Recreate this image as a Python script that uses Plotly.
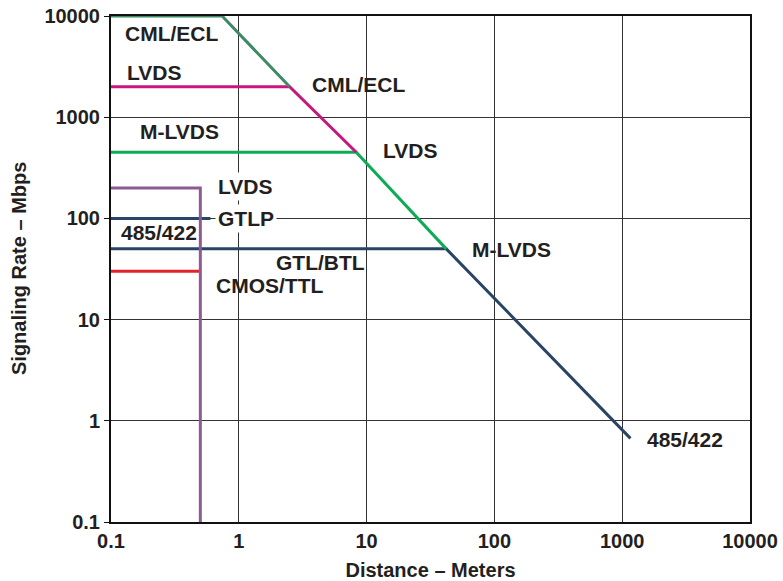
import plotly.graph_objects as go

# ---- data (distance in meters, rate in Mbps) ----
cml_x = [0.1, 0.74, 2.5]
cml_y = [10000, 10000, 2000]

lvds_x = [0.1, 2.5, 8.3]
lvds_y = [2000, 2000, 450]

mlvds_x = [0.1, 8.3, 42]
mlvds_y = [450, 450, 50]

rs485_x = [0.1, 42, 1160]
rs485_y = [50, 50, 0.67]

gtlp_x = [0.1, 0.6]
gtlp_y = [100, 100]

lvds_short_x = [0.1, 0.5, 0.5]
lvds_short_y = [200, 200, 0.1]

cmos_x = [0.1, 0.5]
cmos_y = [30, 30]

tick_vals = [0.1, 1, 10, 100, 1000, 10000]
tick_text = ["0.1", "1", "10", "100", "1000", "10000"]

# label texts and (log10 x, log10 y) anchor positions
label_text = ["CML/ECL", "LVDS", "CML/ECL", "M-LVDS", "LVDS", "LVDS", "GTLP",
              "485/422", "GTL/BTL", "CMOS/TTL", "M-LVDS", "485/422"]
label_lx = [-0.527, -0.667, 0.937, -0.464, 1.340, 0.049, 0.060,
            -0.628, 0.639, 0.240, 2.135, 3.491]
label_ly = [3.827, 3.442, 3.328, 2.854, 2.671, 2.320, 2.004,
            1.861, 1.564, 1.337, 1.693, -0.180]
label_bg = [False, False, False, False, False, True, True,
            False, False, False, False, False]

FONT = "Liberation Sans, Arial, Helvetica, sans-serif"
TXT = "#231f20"

series = [
    (rs485_x, rs485_y, "#2a4466"),
    (mlvds_x, mlvds_y, "#0faa55"),
    (lvds_x, lvds_y, "#c9157f"),
    (cml_x, cml_y, "#3f8a64"),
    (gtlp_x, gtlp_y, "#2a4466"),
    (cmos_x, cmos_y, "#e3202c"),
    (lvds_short_x, lvds_short_y, "#8e5a93"),
]

fig = go.Figure()
for xs, ys, col in series:
    fig.add_trace(go.Scatter(x=xs, y=ys, mode="lines",
                             line=dict(color=col, width=3),
                             hoverinfo="skip", showlegend=False))

for t, lx, ly, bg in zip(label_text, label_lx, label_ly, label_bg):
    fig.add_annotation(x=lx, y=ly, xref="x", yref="y", text=t, showarrow=False,
                       font=dict(family=FONT, size=21, color=TXT, weight="bold"),
                       bgcolor="white" if bg else "rgba(0,0,0,0)",
                       borderpad=2)

# y axis title as a rotated annotation
fig.add_annotation(x=0, y=0.5, xref="paper", yref="paper", xanchor="center",
                   yanchor="middle", xshift=-92, textangle=-90, showarrow=False,
                   text="Signaling Rate – Mbps",
                   font=dict(family=FONT, size=20, color=TXT, weight="bold"))

axis_common = dict(
    type="log", range=[-1, 4], automargin=False,
    showgrid=True, gridcolor="#333333", gridwidth=1,
    showline=True, linecolor="#111111", linewidth=2, mirror=True,
    zeroline=False, layer="below traces",
    tickvals=tick_vals, ticktext=tick_text, ticklabeloverflow="allow",
    tickfont=dict(family=FONT, size=20, color=TXT, weight="bold"),
)

fig.update_xaxes(**axis_common, ticks="",
                 title=dict(text="Distance – Meters",
                            font=dict(family=FONT, size=20, color=TXT, weight="bold")))
fig.update_yaxes(**axis_common, ticks="outside", ticklen=5, tickcolor="#111111")

fig.update_layout(
    template="none",
    width=783, height=581,
    margin=dict(l=111, r=33, t=16, b=59),
    paper_bgcolor="white", plot_bgcolor="white",
    showlegend=False,
)

fig.write_html(
    "out.html",
    config={"responsive": False, "displayModeBar": False},
    post_script="document.body.style.margin='0';document.body.style.overflow='hidden';",
)
